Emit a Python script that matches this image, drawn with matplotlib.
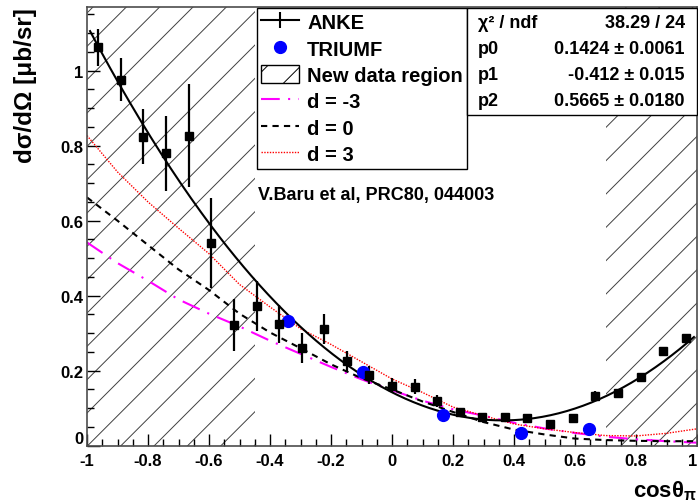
import numpy as np
import matplotlib
matplotlib.use("Agg")
import matplotlib.pyplot as plt
from matplotlib.lines import Line2D
from matplotlib.patches import Patch, Rectangle
import matplotlib.ticker as mt

plt.rcParams['font.family'] = ['Liberation Sans', 'DejaVu Sans']
plt.rcParams['font.weight'] = 'bold'
plt.rcParams['hatch.linewidth'] = 0.7
plt.rcParams['mathtext.default'] = 'regular'

# ---------------- data ----------------
anke_x = [-0.963, -0.889, -0.815, -0.741, -0.667, -0.593, -0.519, -0.444, -0.370,
          -0.296, -0.222, -0.148, -0.074, 0.000, 0.074, 0.148, 0.222, 0.296,
          0.370, 0.444, 0.519, 0.593, 0.667, 0.741, 0.815, 0.889, 0.963]
anke_y = [1.062, 0.976, 0.824, 0.780, 0.827, 0.540, 0.322, 0.372, 0.325,
          0.260, 0.311, 0.225, 0.188, 0.160, 0.157, 0.120, 0.091, 0.077,
          0.077, 0.073, 0.058, 0.073, 0.133, 0.140, 0.182, 0.253, 0.286]
anke_err = [0.050, 0.058, 0.073, 0.100, 0.138, 0.120, 0.069, 0.067, 0.051,
            0.040, 0.040, 0.028, 0.024, 0.020, 0.020, 0.016, 0.010, 0.010,
            0.008, 0.008, 0.008, 0.008, 0.012, 0.010, 0.010, 0.010, 0.010]

triumf_x = [-0.341, -0.094, 0.168, 0.423, 0.647]
triumf_y = [0.333, 0.196, 0.082, 0.034, 0.045]

theory_x = [-1.0, -0.9, -0.8, -0.7, -0.6, -0.5, -0.4, -0.3, -0.2, -0.1, 0.0,
            0.1, 0.2, 0.3, 0.4, 0.5, 0.6, 0.7, 0.8, 0.9, 1.0]
d_m3 = [0.542, 0.487, 0.440, 0.390, 0.352, 0.318, 0.280, 0.245, 0.210, 0.177, 0.148,
        0.120, 0.097, 0.080, 0.061, 0.046, 0.034, 0.024, 0.017, 0.012, 0.008]
d_0 = [0.662, 0.600, 0.535, 0.470, 0.415, 0.352, 0.302, 0.260, 0.217, 0.180, 0.150,
       0.118, 0.090, 0.063, 0.043, 0.030, 0.019, 0.015, 0.013, 0.012, 0.012]
d_p3 = [0.827, 0.730, 0.650, 0.580, 0.512, 0.430, 0.370, 0.312, 0.270, 0.224, 0.178,
        0.142, 0.103, 0.080, 0.058, 0.045, 0.035, 0.027, 0.026, 0.033, 0.045]

fit_names = ['p0', 'p1', 'p2']
fit_values = [0.1424, -0.412, 0.5665]
fit_value_text = ['0.1424', '-0.412', '0.5665']
fit_error_text = ['0.0061', '0.015', '0.0180']
chi2_text = '38.29 / 24'
fit_range = [-0.99, 0.99]

new_regions = [(-1.0, -0.45), (0.7, 1.0)]

legend_labels = ['ANKE', 'TRIUMF', 'New data region', 'd = -3', 'd = 0', 'd = 3']
x_ticks = [-1, -0.8, -0.6, -0.4, -0.2, 0, 0.2, 0.4, 0.6, 0.8, 1]
y_ticks = [0, 0.2, 0.4, 0.6, 0.8, 1]

# ---------------- figure ----------------
W, H = 698, 502
fig = plt.figure(figsize=(W / 100, H / 100), dpi=100)
ax_l, ax_r, ax_b, ax_t = 87, 697, 446.7, 8.3
ax = fig.add_axes([ax_l / W, 1 - ax_b / H, (ax_r - ax_l) / W, (ax_b - ax_t) / H])

for (a, b) in new_regions:
    ax.axvspan(a, b, facecolor='none', edgecolor='0.25', lw=0, hatch='/', zorder=0.5)

# fit curve
xf = np.linspace(fit_range[0], fit_range[1], 300)
yf = fit_values[0] + fit_values[1] * xf + fit_values[2] * xf ** 2
ax.plot(xf, yf, color='k', lw=1.5, zorder=3)

# theory curves
ls_m3 = (0, (9, 4, 1, 4))
ls_0 = (0, (3, 2.5))
ls_p3 = (0, (1, 1))
ax.plot(theory_x, d_m3, color='#ff00ff', lw=1.5, ls=ls_m3, zorder=2)
ax.plot(theory_x, d_0, color='k', lw=1.5, ls=ls_0, zorder=2)
ax.plot(theory_x, d_p3, color='red', lw=1.0, ls=ls_p3, zorder=2)

# data
ax.errorbar(anke_x, anke_y, yerr=anke_err, fmt='s', color='k', ms=6,
            elinewidth=1.6, capsize=0, zorder=4)
ax.plot(triumf_x, triumf_y, 'o', color='#0000ff', ms=8.5, mec='#0000ff', zorder=4)

ax.set_xlim(-1, 1)
ax.set_ylim(0, 1.169)
ax.set_xticks(x_ticks)
ax.set_xticklabels([('%g' % t) for t in x_ticks])
ax.set_yticks(y_ticks)
ax.set_yticklabels([('%g' % t) for t in y_ticks])
ax.xaxis.set_minor_locator(mt.MultipleLocator(0.05))
ax.yaxis.set_minor_locator(mt.MultipleLocator(0.05))
ax.tick_params(which='major', direction='in', length=9, width=1.0, labelsize=12,
               top=False, right=False)
ax.tick_params(which='minor', direction='in', length=5, width=1.0, top=False, right=False)
ax.tick_params(axis='x', which='major', pad=5)
ax.tick_params(axis='y', which='major', pad=2.5)
for lab in ax.get_xticklabels() + ax.get_yticklabels():
    lab.set_fontweight('bold')
ax.get_xticklabels()[-1].set_horizontalalignment('right')
ax.get_yticklabels()[0].set_verticalalignment('bottom')
for sp in ax.spines.values():
    sp.set_linewidth(1.2)
    sp.set_color('0.3')

ax.set_ylabel('dσ/dΩ [μb/sr]', loc='top', fontsize=17.5, fontweight='bold')
ax.yaxis.set_label_coords(-0.082, 1.0)
ax.set_xlabel('cosθ$_{π}$', loc='right', fontsize=16, fontweight='bold')
ax.xaxis.set_label_coords(1.0, -0.075)

ax.text((258 - ax_l) / (ax_r - ax_l), (ax_b - 196) / (ax_b - ax_t),
        'V.Baru et al, PRC80, 044003', transform=ax.transAxes, ha='left', va='center',
        fontsize=13, fontweight='bold', zorder=6)

# legend
handles = [
    Line2D([], [], color='k', lw=1.5, marker='|', ms=12, mew=1.5),
    Line2D([], [], ls='none', marker='o', color='#0000ff', ms=8.5),
    Patch(facecolor='white', edgecolor='k', hatch='/', lw=1),
    Line2D([], [], color='#ff00ff', lw=1.5, ls=ls_m3),
    Line2D([], [], color='k', lw=1.5, ls=ls_0),
    Line2D([], [], color='red', lw=1.0, ls=ls_p3),
]
leg = ax.legend(handles, legend_labels, loc='upper left',
                bbox_to_anchor=(257 / W, 0, 210 / W, 1 - 9 / H),
                bbox_transform=fig.transFigure, mode='expand',
                prop={'weight': 'bold', 'size': 14.5}, frameon=True, fancybox=False,
                framealpha=1, edgecolor='k', borderpad=0.22, borderaxespad=0,
                handlelength=1.85, handleheight=1.0, handletextpad=0.42,
                labelspacing=0.32)
leg.get_frame().set_linewidth(1.0)
leg.set_zorder(10)

# stats box
sb = Rectangle((467 / W, 1 - 116 / H), (698 - 467) / W - 0.001, (116 - 9) / H,
               transform=fig.transFigure, facecolor='white', edgecolor='k', lw=1.0,
               clip_on=False, zorder=11)
ax.add_artist(sb)
rows_left = ['χ² / ndf'] + fit_names
rows_right = [chi2_text] + ['%s ± %s' % (v, e) for v, e in zip(fit_value_text, fit_error_text)]
row_y = [23, 50, 76, 102]
for lt, rt, yy in zip(rows_left, rows_right, row_y):
    ax.text(478 / W, 1 - yy / H, lt, transform=fig.transFigure, ha='left', va='center',
            fontsize=13, fontweight='bold', zorder=12, clip_on=False)
    ax.text(685 / W, 1 - yy / H, rt, transform=fig.transFigure, ha='right', va='center',
            fontsize=13, fontweight='bold', zorder=12, clip_on=False)

fig.savefig('out.png', dpi=100)
